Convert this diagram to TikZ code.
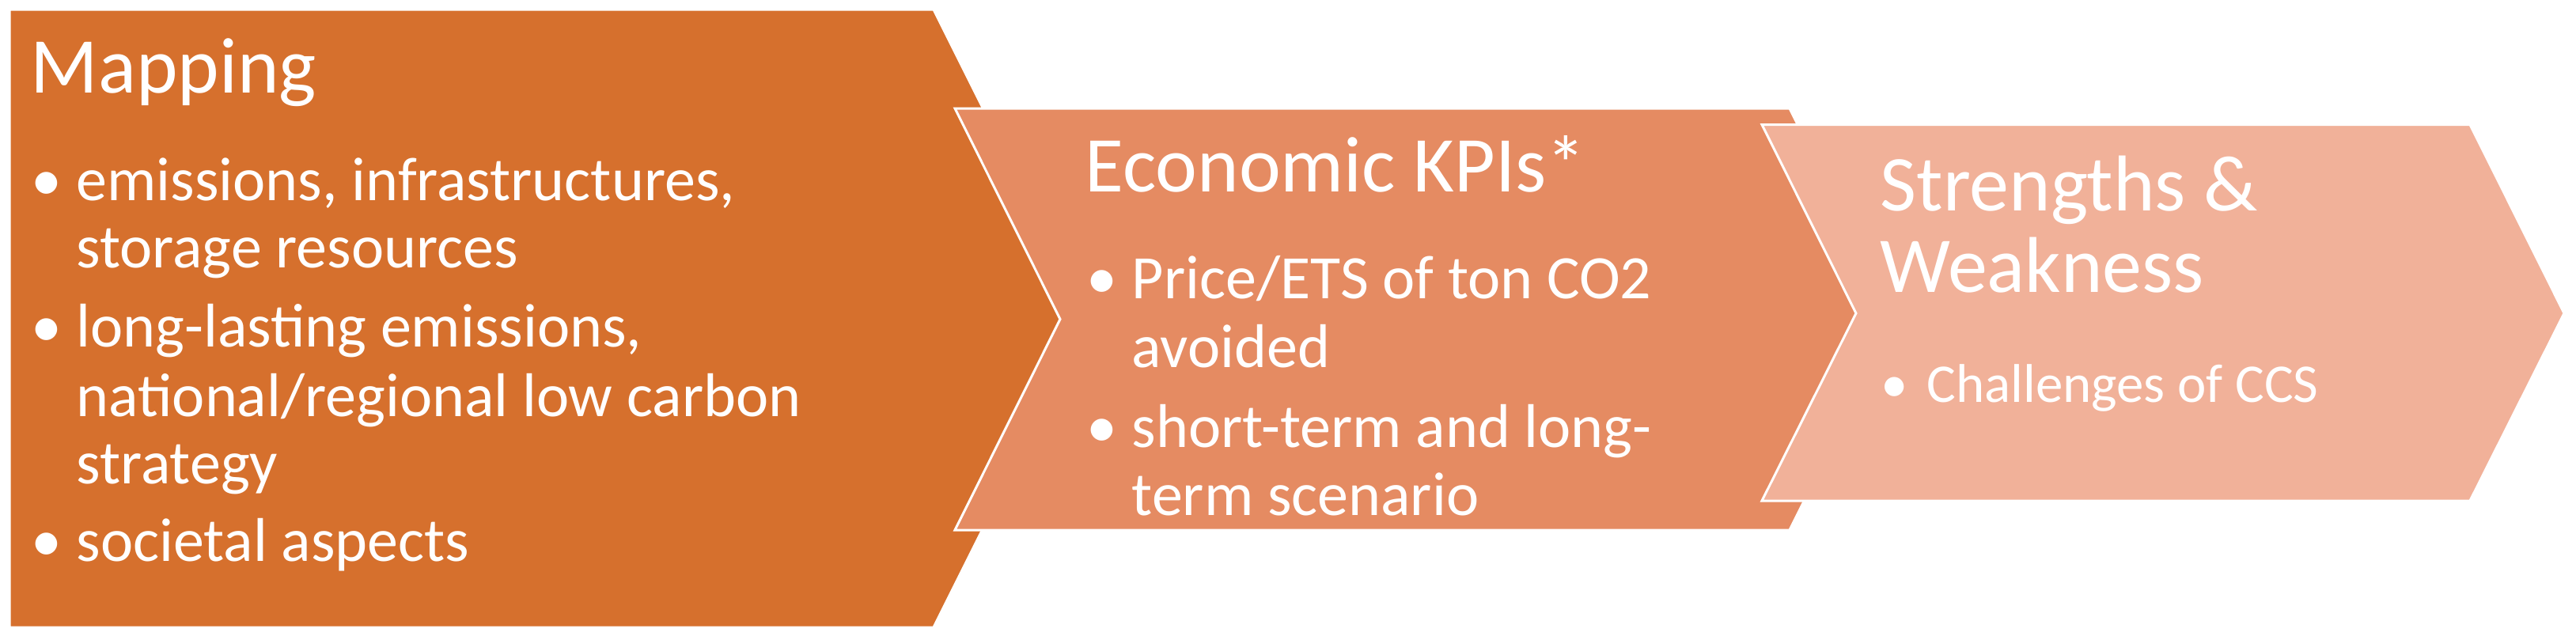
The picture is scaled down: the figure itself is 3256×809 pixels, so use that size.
\documentclass[tikz,border=0pt]{standalone}
\usepackage{fontspec}
\setmainfont{Carlito}
\definecolor{chevA}{RGB}{214,112,45}
\definecolor{chevB}{RGB}{229,139,98}
\definecolor{chevC}{RGB}{241,177,153}
\begin{document}
\begin{tikzpicture}[x=0.01cm,y=-0.01cm,
  chev/.style={draw=white,line width=0.03cm,line join=miter},
  ttl/.style={anchor=base west,inner sep=0pt,text=white,font=\fontsize{28.45pt}{34pt}\selectfont},
  itm/.style={anchor=base west,inner sep=0pt,text=white,font=\fontsize{22.2pt}{26pt}\selectfont},
  itmS/.style={anchor=base west,inner sep=0pt,text=white,font=\fontsize{19.6pt}{23pt}\selectfont},
  dot/.style={anchor=base,inner sep=0pt,text=white,font=\fontsize{22.2pt}{26pt}\selectfont},
  dotS/.style={anchor=base,inner sep=0pt,text=white,font=\fontsize{19.6pt}{23pt}\selectfont}]
\useasboundingbox (0,0) rectangle (3256,809);
\fill[white] (0,0) rectangle (3256,809);
% shapes
\path[chev,fill=chevA] (12,12) -- (1180,12) -- (1375,402.5) -- (1180,793) -- (12,793) -- cycle;
\path[chev,fill=chevB] (1207,137) -- (2262,137) -- (2395,403.5) -- (2262,670) -- (1207,670) -- (1340,403.5) -- cycle;
\path[chev,fill=chevC] (2227,157.5) -- (3122,157.5) -- (3241,396) -- (3122,633) -- (2227,633) -- (2346,396) -- cycle;
% Mapping
\node[ttl] (t1) at (38,117) {Mapping};
\node[dot] (d1a) at (59,253) {•};
\node[itm] (l1a) at (96,253) {emissions, infrastructures,};
\node[itm] (l1b) at (96,338) {storage resources};
\node[dot] (d1b) at (59,438) {•};
\node[itm] (l1c) at (96,438) {long-lasting emissions,};
\node[itm] (l1d) at (96,526) {national/regional low carbon};
\node[itm] (l1e) at (96,611) {strategy};
\node[dot] (d1c) at (59,709) {•};
\node[itm] (l1f) at (96,709) {societal aspects};
% Economic
\node[ttl] (t2) at (1371,242) {Economic KPIs*};
\node[dot] (d2a) at (1393,377) {•};
\node[itm] (l2a) at (1430,377) {Price/ETS of ton CO2};
\node[itm] (l2b) at (1430,464) {avoided};
\node[dot] (d2b) at (1393,565) {•};
\node[itm] (l2c) at (1430,565) {short-term and long-};
\node[itm] (l2d) at (1430,651) {term scenario};
% Strengths
\node[ttl] (t3a) at (2376,266) {Strengths \&};
\node[ttl] (t3b) at (2376,369) {Weakness};
\node[dotS] (d3a) at (2395,508) {•};
\node[itmS] (l3a) at (2435,508) {Challenges of CCS};
\end{tikzpicture}
\end{document}
